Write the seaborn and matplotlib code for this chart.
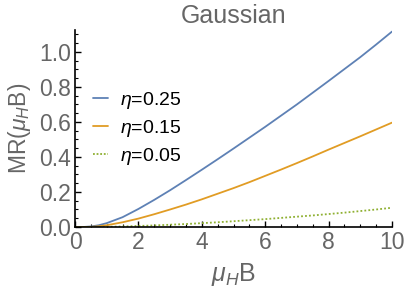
import numpy as np
import pandas as pd
import seaborn as sns
import matplotlib.pyplot as plt
from matplotlib.ticker import MultipleLocator

# values
mu_b = [0, 0.25, 0.5, 0.75, 1, 1.5, 2, 2.5, 3, 3.5, 4, 4.5, 5,
        5.5, 6, 6.5, 7, 7.5, 8, 8.5, 9, 9.5, 10]
mr_025 = [0, 0.0, 0.003, 0.01, 0.022, 0.056, 0.103, 0.155, 0.21, 0.268, 0.327, 0.387, 0.448,
          0.51, 0.572, 0.636, 0.70, 0.767, 0.834, 0.902, 0.97, 1.042, 1.116]
mr_015 = [0, 0.0, 0.001, 0.004, 0.01, 0.027, 0.048, 0.073, 0.10, 0.128, 0.158, 0.19, 0.222,
          0.256, 0.292, 0.328, 0.365, 0.403, 0.442, 0.48, 0.518, 0.557, 0.596]
mr_005 = [0, 0.0, 0.0, 0.0005, 0.001, 0.003, 0.006, 0.009, 0.013, 0.017, 0.022, 0.027, 0.033,
          0.039, 0.045, 0.052, 0.059, 0.066, 0.074, 0.082, 0.091, 0.10, 0.11]
labels = [r'$\eta$=0.25', r'$\eta$=0.15', r'$\eta$=0.05']
colors = ['#5E81B5', '#E19C24', '#8FB032']

df = pd.DataFrame({
    'x': mu_b * 3,
    'y': mr_025 + mr_015 + mr_005,
    'series': [labels[0]] * len(mu_b) + [labels[1]] * len(mu_b) + [labels[2]] * len(mu_b),
})

sns.set_style('ticks')
plt.rcParams['font.family'] = ['Liberation Sans', 'DejaVu Sans']
plt.rcParams['mathtext.fontset'] = 'custom'
plt.rcParams['mathtext.rm'] = 'Liberation Sans'
plt.rcParams['mathtext.it'] = 'Liberation Sans:italic'

gray = '#666666'
fig = plt.figure(figsize=(4.07, 2.97), dpi=100)
ax = fig.add_axes([75 / 407, 1 - 227 / 297, 317 / 407, 197 / 297])

sns.lineplot(data=df, x='x', y='y', hue='series', style='series',
             palette=colors, dashes=[(None, None), (None, None), (1, 1)],
             linewidth=1.3, ax=ax)
ax.lines[2].set_linestyle((0, (1, 1.2)))

ax.set_xlim(0, 10)
ax.set_ylim(0, 1.125)
ax.xaxis.set_major_locator(MultipleLocator(2))
ax.xaxis.set_minor_locator(MultipleLocator(0.5))
ax.yaxis.set_major_locator(MultipleLocator(0.2))
ax.yaxis.set_minor_locator(MultipleLocator(0.05))
ax.xaxis.set_major_formatter(lambda v, p: f'{v:.0f}')
ax.yaxis.set_major_formatter(lambda v, p: f'{v:.1f}')

for s in ['top', 'right']:
    ax.spines[s].set_visible(False)
for s in ['left', 'bottom']:
    ax.spines[s].set_linewidth(1.2)
    ax.spines[s].set_color('black')

ax.tick_params(which='major', direction='in', length=4, width=1, color='black',
               labelsize=16.5, labelcolor=gray, pad=3)
ax.tick_params(which='minor', direction='in', length=2, width=0.8, color='black')

ax.set_title('Gaussian', fontsize=18, color=gray, pad=5)
ax.set_xlabel(r'$\mu_H$B', fontsize=18, color=gray, labelpad=5)
ax.set_ylabel(r'MR($\mu_H$B)', fontsize=16.5, color=gray, labelpad=4)

leg = ax.legend(loc='center left', bbox_to_anchor=(0.0, 0.5), frameon=False,
                fontsize=14, handlelength=0.8, handletextpad=0.6, labelspacing=0.35)
for t in leg.get_texts():
    t.set_color('black')

fig.savefig('out.png', dpi=100)
